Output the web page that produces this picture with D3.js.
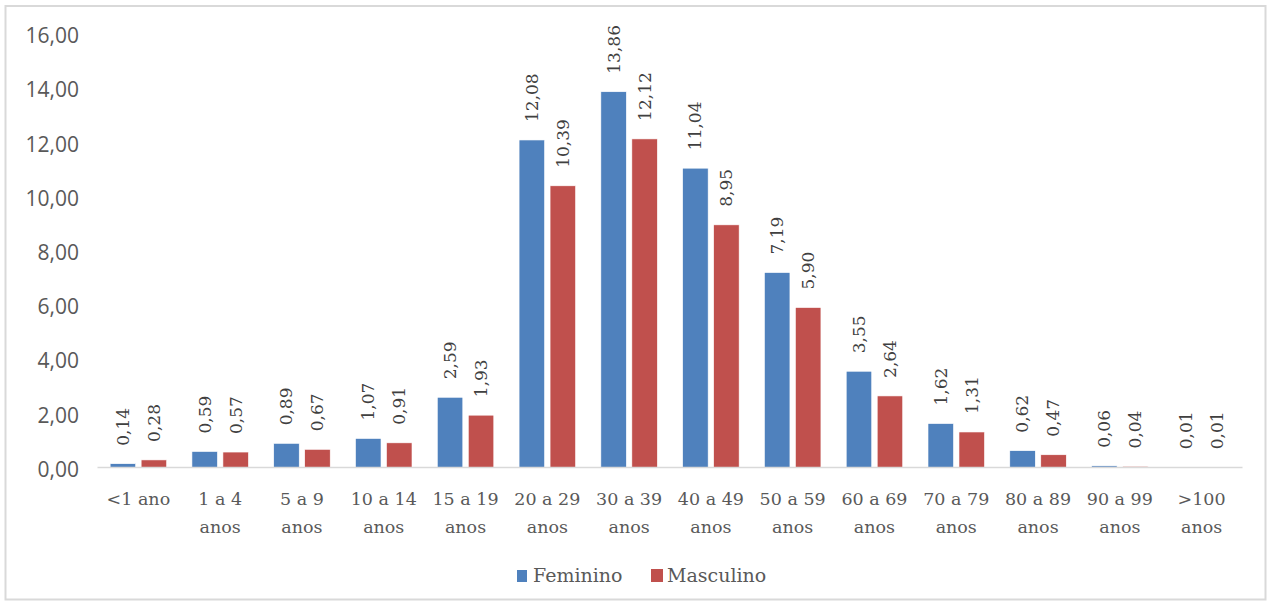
<!DOCTYPE html>
<html>
<head>
<meta charset="utf-8">
<script src="https://d3js.org/d3.v7.min.js"></script>
<style>
  body { margin: 0; background: #fff; }
  svg { display: block; }
</style>
</head>
<body>
<svg id="chart"></svg>
<script>
// data
const categories = [
  ["<1 ano"], ["1 a 4", "anos"], ["5 a 9", "anos"], ["10 a 14", "anos"], ["15 a 19", "anos"],
  ["20 a 29", "anos"], ["30 a 39", "anos"], ["40 a 49", "anos"], ["50 a 59", "anos"],
  ["60 a 69", "anos"], ["70 a 79", "anos"], ["80 a 89", "anos"], ["90 a 99", "anos"], [">100", "anos"]
];
const feminino = [0.14, 0.59, 0.89, 1.07, 2.59, 12.08, 13.86, 11.04, 7.19, 3.55, 1.62, 0.62, 0.06, 0.01];
const masculino = [0.28, 0.57, 0.67, 0.91, 1.93, 10.39, 12.12, 8.95, 5.90, 2.64, 1.31, 0.47, 0.04, 0.01];
const seriesNames = ["Feminino", "Masculino"];
const seriesColors = ["#4f81bd", "#c0504d"];
const yTicks = [0, 2, 4, 6, 8, 10, 12, 14, 16];

const W = 1271, H = 605;
const margin = { left: 97.5, right: 28.5, top: 33.7, bottom: 137.5 };
const serif = "'DejaVu Serif', 'Liberation Serif', serif";
const sans = "'Open Sans', 'DejaVu Sans', sans-serif";
const fmt = v => v.toFixed(2).replace(".", ",");

const svg = d3.select("#chart").attr("width", W).attr("height", H);

// outer frame
svg.append("rect")
  .attr("x", 5.5).attr("y", 6)
  .attr("width", W - 11).attr("height", H - 11.5)
  .attr("fill", "#fff").attr("stroke", "#d9d9d9").attr("stroke-width", 2);

const x = d3.scaleBand()
  .domain(d3.range(categories.length))
  .range([margin.left, W - margin.right]);

const y = d3.scaleLinear()
  .domain([0, 16])
  .range([H - margin.bottom, margin.top]);

const inner = d3.scaleBand()
  .domain([0, 1])
  .range([0, x.bandwidth()])
  .paddingInner(0.177)
  .paddingOuter(0.408);

// y axis labels
svg.append("g")
  .selectAll("text")
  .data(yTicks)
  .join("text")
    .attr("x", 79)
    .attr("y", d => y(d) + 2)
    .attr("dy", "0.35em")
    .attr("text-anchor", "end")
    .attr("font-family", sans)
    .attr("font-size", 21)
    .attr("fill", "#595959")
    .text(fmt);

// bars
const series = [feminino, masculino];
series.forEach((vals, si) => {
  const g = svg.append("g");
  g.selectAll("rect")
    .data(vals)
    .join("rect")
      .attr("x", (d, i) => x(i) + inner(si))
      .attr("y", d => y(d))
      .attr("width", inner.bandwidth())
      .attr("height", d => y(0) - y(d))
      .attr("fill", seriesColors[si])
      .attr("stroke", "#fff")
      .attr("stroke-width", 0.6);

  // value labels, rotated
  g.selectAll("text")
    .data(vals)
    .join("text")
      .attr("transform", (d, i) => {
        const cx = x(i) + inner(si) + inner.bandwidth() / 2;
        return `translate(${cx},${y(d) - 18}) rotate(-90)`;
      })
      .attr("dy", "0.35em")
      .attr("text-anchor", "start")
      .attr("font-family", serif)
      .attr("font-size", 17)
      .attr("fill", "#404040")
      .text(fmt);
});

// x axis line
svg.append("line")
  .attr("x1", margin.left).attr("x2", W - margin.right)
  .attr("y1", y(0)).attr("y2", y(0))
  .attr("stroke", "#d9d9d9").attr("stroke-width", 1.5);

// category labels
const cat = svg.append("g")
  .selectAll("text")
  .data(categories)
  .join("text")
    .attr("x", (d, i) => x(i) + x.bandwidth() / 2)
    .attr("y", y(0) + 37.5)
    .attr("text-anchor", "middle")
    .attr("font-family", serif)
    .attr("font-size", 17.5)
    .attr("fill", "#595959");
cat.selectAll("tspan")
  .data(d => d)
  .join("tspan")
    .attr("x", function () { return d3.select(this.parentNode).attr("x"); })
    .attr("dy", (d, i) => i === 0 ? 0 : 28)
    .text(d => d);

// legend
const legend = svg.append("g").attr("transform", "translate(0,582)");
const legItems = [
  { x: 517, w: 10, h: 12, tx: 533 },
  { x: 651, w: 12, h: 13, tx: 667 }
];
seriesNames.forEach((name, i) => {
  const it = legItems[i];
  legend.append("rect")
    .attr("x", it.x).attr("y", -it.h)
    .attr("width", it.w).attr("height", it.h)
    .attr("fill", seriesColors[i]);
  legend.append("text")
    .attr("x", it.tx).attr("y", 0)
    .attr("font-family", serif)
    .attr("font-size", 19)
    .attr("fill", "#595959")
    .text(name);
});
</script>
</body>
</html>
